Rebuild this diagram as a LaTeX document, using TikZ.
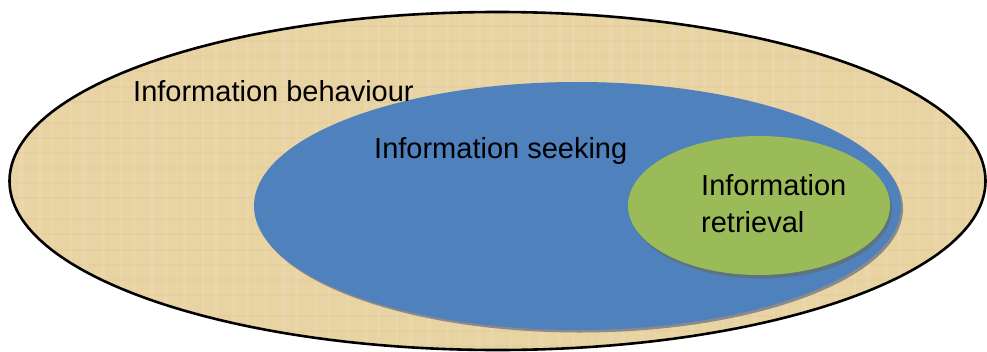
\documentclass[tikz,border=0pt]{standalone}
\usepackage{fontspec}
\setmainfont{Liberation Sans}
\usetikzlibrary{shapes.geometric}
\definecolor{papyrus}{HTML}{E8D3A2}
\definecolor{seekblue}{HTML}{4F81BD}
\definecolor{retrgreen}{HTML}{9BBB59}
\definecolor{shadowgray}{HTML}{8A8A8A}
\definecolor{shadowdark}{HTML}{5C7480}
\tikzset{
  oval/.style={ellipse, inner sep=0pt},
  label text/.style={font=\fontsize{29}{37}\selectfont, text=black, inner sep=0pt, align=left},
}
\begin{document}
\begin{tikzpicture}[x=1pt,y=-1pt]
  \useasboundingbox (0,0) rectangle (987,351);
  % outer field
  \node[oval, draw=black, line width=2.6pt, fill=papyrus,
        minimum width=976pt, minimum height=338pt] (behav) at (497.5,181) {};
  % faint weave of the papyrus
  \begin{scope}
    \clip (497.5,181) ellipse [x radius=487pt, y radius=168pt];
    \foreach \i in {0,...,60} {
      \pgfmathsetmacro{\xx}{\i*16.3+3+mod(\i*7,5)}
      \draw[white, opacity=0.09, line width={2+mod(\i*3,4)}] (\xx,0) -- (\xx,351);
    }
    \foreach \i in {0,...,22} {
      \pgfmathsetmacro{\yy}{\i*16.1+5+mod(\i*5,6)}
      \draw[brown, opacity=0.04, line width=2pt] (0,\yy) -- (987,\yy);
    }
  \end{scope}
  % seeking: shadow then body
  \fill[shadowgray] (579.5,208.5) ellipse [x radius=323.5pt, y radius=124pt];
  \node[oval, fill=seekblue, minimum width=647pt, minimum height=248pt] (seek) at (577.5,206) {};
  % retrieval: shadow then body
  \fill[shadowdark] (761,209) ellipse [x radius=131pt, y radius=69.5pt];
  \node[oval, fill=retrgreen, minimum width=262pt, minimum height=139pt] (retr) at (759,205.5) {};
  % labels
  \node[label text, anchor=base west] (tbehav) at (133,101) {Information behaviour};
  \node[label text, anchor=base west] (tseek) at (374,158) {Information seeking};
  \node[label text, anchor=base west] (tretr1) at (701,195) {Information};
  \node[label text, anchor=base west] (tretr2) at (701,232) {retrieval};
\end{tikzpicture}
\end{document}
